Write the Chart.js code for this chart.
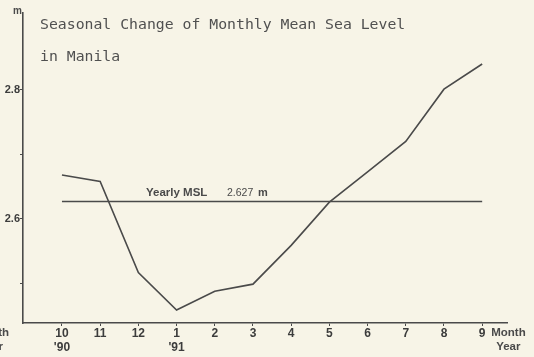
<!DOCTYPE html>
<html>
<head>
<meta charset="utf-8">
<script src="https://cdn.jsdelivr.net/npm/chart.js@4/dist/chart.umd.min.js"></script>
<style>
  html, body { margin: 0; padding: 0; background: #f7f4e7; }
  #wrap { width: 534px; height: 357px; position: relative; }
</style>
</head>
<body>
<div id="wrap"><canvas id="msl"></canvas></div>
<script>
/* ===== DATA ===== */
const months = ["10", "11", "12", "1", "2", "3", "4", "5", "6", "7", "8", "9"];
const years = ["'90", "", "", "'91", "", "", "", "", "", "", "", ""];
const monthlyMSL = [2.668, 2.658, 2.517, 2.459, 2.488, 2.499, 2.559, 2.626, 2.673, 2.720, 2.801, 2.840];
const yearlyMSL = 2.627;
const yTicks = [2.5, 2.6, 2.7, 2.8];
const yLabels = { "2.6": "2.6", "2.8": "2.8" };

const INK = "#4a4a4a";

/* ===== EXTRA TEXT ===== */
const textPlugin = {
    id: "textPlugin",
    afterDraw(chart) {
        const ctx = chart.ctx;
        const area = chart.chartArea;
        const xs = chart.scales.x;
        const ys = chart.scales.y;
        ctx.save();

        // title
        ctx.fillStyle = "#505050";
        ctx.font = "14.8px 'DejaVu Sans Mono'";
        ctx.textAlign = "left";
        ctx.textBaseline = "alphabetic";
        ctx.fillText("Seasonal Change of Monthly Mean Sea Level", 40, 29);
        ctx.fillText("in Manila", 40, 61);

        // unit
        ctx.fillStyle = INK;
        ctx.font = "bold 10px 'Liberation Sans'";
        ctx.textAlign = "right";
        ctx.fillText("m", area.left - 1, 14);

        // yearly msl label
        const ly = ys.getPixelForValue(yearlyMSL) - 6;
        ctx.textAlign = "left";
        ctx.font = "bold 11.5px 'Liberation Sans'";
        ctx.fillText("Yearly MSL", 146, ly);
        ctx.font = "10.5px 'Liberation Sans'";
        ctx.fillText("2.627", 227, ly);
        ctx.font = "bold 11px 'Liberation Sans'";
        ctx.fillText("m", 258, ly);

        // axis name on the right
        ctx.font = "bold 11.5px 'Liberation Sans'";
        ctx.textBaseline = "middle";
        const mx = xs.getPixelForValue(11) + 9;
        ctx.fillText("Month", mx, 333);
        ctx.fillText("Year", mx + 5, 347);

        // cut-off axis name of the figure on the left
        ctx.textAlign = "right";
        ctx.fillText("Month", 9, 333);
        ctx.fillText("Year", 3, 347);
        ctx.restore();
    }
};

/* ===== CHART ===== */
new Chart(document.getElementById("msl"), {
    type: "line",
    data: {
        datasets: [{
            label: "Monthly MSL",
            data: monthlyMSL.map((v, i) => ({ x: i, y: v })),
            borderColor: INK,
            borderWidth: 1.6,
            pointRadius: 0,
            tension: 0
        }, {
            label: "Yearly MSL",
            data: months.map((m, i) => ({ x: i, y: yearlyMSL })),
            borderColor: INK,
            borderWidth: 1.6,
            pointRadius: 0,
            tension: 0
        }]
    },
    options: {
        responsive: true,
        maintainAspectRatio: false,
        animation: false,
        layout: { padding: { left: 0, right: 27, top: 13, bottom: 0 } },
        plugins: {
            legend: { display: false },
            tooltip: { enabled: false }
        },
        scales: {
            x: {
                type: "linear",
                min: -1.02,
                max: 11.65,
                afterBuildTicks: s => { s.ticks = months.map((m, i) => ({ value: i })); },
                afterFit: s => { s.height = 34; },
                border: { color: INK, width: 1.6 },
                grid: { drawOnChartArea: false, drawTicks: true, tickLength: 3, color: INK },
                ticks: {
                    autoSkip: false,
                    maxRotation: 0,
                    padding: 1,
                    color: "#3c3c3c",
                    font: { family: "Liberation Sans", size: 12, weight: "bold", lineHeight: 1.15 },
                    callback: v => years[v] ? [months[v], years[v]] : months[v]
                }
            },
            y: {
                min: 2.4388,
                max: 2.919,
                afterBuildTicks: s => { s.ticks = yTicks.map(v => ({ value: v })); },
                afterFit: s => { s.width = 23; },
                border: { color: INK, width: 1.6 },
                grid: { drawOnChartArea: false, drawTicks: true, tickLength: 3, color: INK },
                ticks: {
                    padding: 0,
                    color: "#3c3c3c",
                    font: { family: "Liberation Sans", size: 11, weight: "bold" },
                    callback: v => yLabels[v.toFixed(1)] || ""
                }
            }
        }
    },
    plugins: [textPlugin]
});
</script>
</body>
</html>
